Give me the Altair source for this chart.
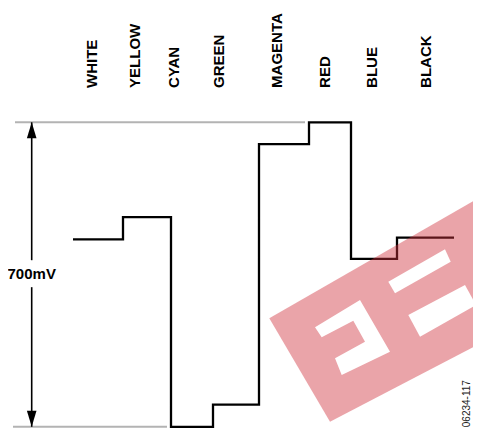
import altair as alt
import pandas as pd

# ---- data -------------------------------------------------------------
bars = ["WHITE", "YELLOW", "CYAN", "GREEN", "MAGENTA", "RED", "BLUE", "BLACK"]
label_t = [84, 127, 166, 211, 269, 317, 364, 418]          # label anchor (time units)
label_mv = 779
edge_t = [65, 115, 163, 205, 251, 301, 343, 389, 446]       # bar start times
level_mv = [431, 482, 0, 51, 650, 700, 386, 435, 435]       # level of each bar (mV)
ref_mv = [700, 0]                                           # grey reference levels
ref_start_t = [7, 5]
ref_end_t = [297, 159]
arrow_t = 23.7
arrow_lo_mv = [0, 383]
arrow_hi_mv = [321, 700]
span_label = "700mV"
span_label_mv = 350
fig_id = "06234-117"
fig_id_t = 459
fig_id_mv = -1

# watermark outline (image units)
wm_band_x = [261.3, 473, 473, 322]
wm_band_y = [310.3, 188.7, 335, 413.7]
wm_cut_id = [0] * 4 + [1] * 4 + [2] * 8
wm_cut_x = [380.3, 437, 442.7, 387,
            400.3, 457, 468, 412,
            307, 352, 382, 333.7, 327, 357, 345.3, 313.7]
wm_cut_y = [273.7, 241.3, 253.7, 285.3,
            307, 277, 297, 328.7,
            319.3, 292, 343.7, 367, 350.3, 333.7, 312.7, 329.3]

# ---- scales -----------------------------------------------------------
W, H = 465, 420
XS = alt.Scale(domain=[0, W], nice=False, zero=False)
YM = alt.Scale(domain=[-2.76, 962.8], nice=False, zero=False)
YI = alt.Scale(domain=[0, H], reverse=True, nice=False, zero=False)
FONT = "Liberation Sans"

wave = pd.DataFrame({"t": edge_t, "mv": level_mv})
labels = pd.DataFrame({"name": bars, "t": label_t, "mv": [label_mv] * len(bars)})
refs = pd.DataFrame({"t": ref_start_t, "t2": ref_end_t, "mv": ref_mv})
arrow = pd.DataFrame({"t": [arrow_t] * 2, "lo": arrow_lo_mv, "hi": arrow_hi_mv})
heads = pd.DataFrame({"t": [arrow_t, arrow_t], "mv": [700, 0],
                      "dir": ["up", "down"]})
band = pd.DataFrame({"x": wm_band_x, "y": wm_band_y, "i": range(len(wm_band_x))})
cuts = pd.DataFrame({"x": wm_cut_x, "y": wm_cut_y, "g": wm_cut_id,
                     "i": range(len(wm_cut_x))})

x_t = alt.X("t:Q", scale=XS, axis=None)

ref_layer = alt.Chart(refs).mark_rule(color="#b3b3b3", strokeWidth=2).encode(
    x=x_t, x2="t2:Q", y=alt.Y("mv:Q", scale=YM, axis=None))

wave_layer = alt.Chart(wave).mark_line(
    color="black", strokeWidth=2.3, interpolate="step-after").encode(
    x=x_t, y=alt.Y("mv:Q", scale=YM, axis=None))

arrow_layer = alt.Chart(arrow).mark_rule(color="black", strokeWidth=1.6).encode(
    x=x_t, y=alt.Y("lo:Q", scale=YM, axis=None), y2="hi:Q")

up_head = alt.Chart(heads[heads.dir == "up"]).mark_point(
    shape="M0,0L0.3,1L-0.3,1Z", filled=True, color="black", opacity=1,
    size=1024, strokeWidth=0).encode(
    x=x_t, y=alt.Y("mv:Q", scale=YM, axis=None))

down_head = alt.Chart(heads[heads.dir == "down"]).mark_point(
    shape="M0,0L0.3,-1L-0.3,-1Z", filled=True, color="black", opacity=1,
    size=1024, strokeWidth=0).encode(
    x=x_t, y=alt.Y("mv:Q", scale=YM, axis=None))

span_text = alt.Chart(pd.DataFrame({"t": [arrow_t], "mv": [span_label_mv],
                                    "s": [span_label]})).mark_text(
    font=FONT, fontSize=15, fontWeight="bold", color="black",
    align="center", baseline="middle", dy=-1).encode(
    x=x_t, y=alt.Y("mv:Q", scale=YM, axis=None), text="s:N")

label_layer = alt.Chart(labels).mark_text(
    font=FONT, fontSize=15, fontWeight="bold", color="black",
    angle=270, align="left", baseline="middle").encode(
    x=x_t, y=alt.Y("mv:Q", scale=YM, axis=None), text="name:N")

id_layer = alt.Chart(pd.DataFrame({"t": [fig_id_t], "mv": [fig_id_mv],
                                   "s": [fig_id]})).mark_text(
    font=FONT, fontSize=10, color="#222222",
    angle=270, align="left", baseline="middle").encode(
    x=x_t, y=alt.Y("mv:Q", scale=YM, axis=None), text="s:N")

band_layer = alt.Chart(band).mark_line(
    fill="#cf303c", opacity=0.44, strokeWidth=0, strokeOpacity=0).encode(
    x=alt.X("x:Q", scale=XS, axis=None),
    y=alt.Y("y:Q", scale=YI, axis=None), order="i:Q")

cut_layer = alt.Chart(cuts).mark_line(
    fill="white", strokeWidth=0, strokeOpacity=0).encode(
    x=alt.X("x:Q", scale=XS, axis=None),
    y=alt.Y("y:Q", scale=YI, axis=None), order="i:Q", detail="g:N")

chart = alt.layer(
    ref_layer, wave_layer, arrow_layer, up_head, down_head,
    span_text, label_layer, id_layer, band_layer, cut_layer
).resolve_scale(y="independent").properties(
    width=W, height=H, padding=0,
    autosize=alt.AutoSizeParams(type="none"),
    background="white"
).configure_view(strokeWidth=0)

chart.save("out.html", embed_options={"renderer": "svg", "actions": False})
